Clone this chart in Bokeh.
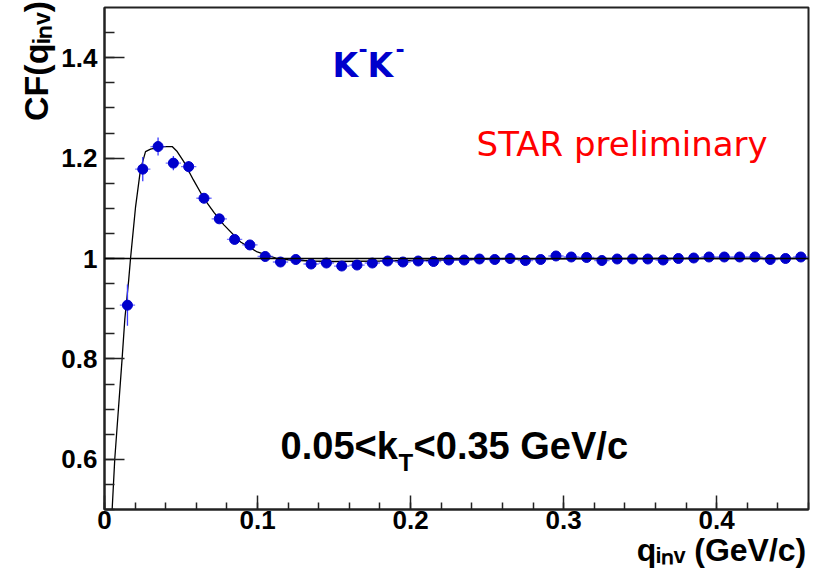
import numpy as np
from bokeh.plotting import figure
from bokeh.models import Span, Label, SingleIntervalTicker, Range1d
from bokeh.embed import file_html
from bokeh.resources import INLINE

# K-K- correlation function vs q_inv (bin centres, GeV/c)
q_inv = [0.015, 0.025, 0.035, 0.045, 0.055, 0.065, 0.075, 0.085, 0.095, 0.105,
         0.115, 0.125, 0.135, 0.145, 0.155, 0.165, 0.175, 0.185, 0.195, 0.205,
         0.215, 0.225, 0.235, 0.245, 0.255, 0.265, 0.275, 0.285, 0.295, 0.305,
         0.315, 0.325, 0.335, 0.345, 0.355, 0.365, 0.375, 0.385, 0.395, 0.405,
         0.415, 0.425, 0.435, 0.445, 0.455]
cf = [0.907, 1.178, 1.223, 1.190, 1.183, 1.120, 1.079, 1.038, 1.027, 1.004,
      0.993, 0.998, 0.989, 0.991, 0.985, 0.987, 0.991, 0.995, 0.993, 0.995,
      0.994, 0.997, 0.997, 0.999, 0.998, 1.000, 0.996, 0.998, 1.005, 1.003,
      1.002, 0.996, 0.999, 0.999, 0.999, 0.997, 1.000, 1.001, 1.003, 1.003,
      1.003, 1.003, 0.998, 1.000, 1.003]
cf_err = [0.041, 0.024, 0.018, 0.014, 0.011, 0.009, 0.008, 0.007, 0.006, 0.006,
          0.005, 0.005, 0.005, 0.005, 0.005, 0.005, 0.005, 0.005, 0.005, 0.005,
          0.005, 0.005, 0.005, 0.005, 0.005, 0.005, 0.005, 0.005, 0.005, 0.005,
          0.005, 0.005, 0.005, 0.005, 0.005, 0.005, 0.005, 0.005, 0.005, 0.005,
          0.005, 0.005, 0.005, 0.005, 0.005]
bin_half_width = 0.005

# fitted correlation function curve
fit_q = [0.005, 0.0067, 0.0115, 0.0133, 0.0158, 0.0170, 0.0203, 0.0235, 0.0268,
         0.0301, 0.0345, 0.0388, 0.0442, 0.0475, 0.0518, 0.0580, 0.0649, 0.0715,
         0.0780, 0.0889, 0.0998, 0.1129, 0.1216, 0.135, 0.150, 0.180, 0.220,
         0.260, 0.300, 0.360, 0.460]
fit_cf = [0.500, 0.600, 0.800, 0.880, 0.957, 1.000, 1.103, 1.177, 1.213,
          1.218, 1.221, 1.223, 1.223, 1.213, 1.193, 1.157, 1.120, 1.092,
          1.067, 1.033, 1.013, 1.000, 0.997, 0.995, 0.994, 0.995, 0.997,
          0.999, 0.9995, 1.000, 1.000]

x_ticks = [0.0, 0.1, 0.2, 0.3, 0.4]
y_ticks = [0.6, 0.8, 1.0, 1.2, 1.4]

x_title = "q\u1d62\u2099\u1d65 (GeV/c)"
y_title = "CF(q\u1d62\u2099\u1d65)"

p = figure(width=819, height=576, output_backend="svg", toolbar_location=None,
           x_range=Range1d(0, 0.46), y_range=Range1d(0.5, 1.5),
           min_border_left=104, min_border_right=11, min_border_top=7,
           min_border_bottom=67)
p.background_fill_color = "white"
p.border_fill_color = "white"
p.grid.visible = False
p.outline_line_color = "#222222"
p.outline_line_width = 2

p.xaxis.ticker = SingleIntervalTicker(interval=0.1, num_minor_ticks=5)
p.yaxis.ticker = SingleIntervalTicker(interval=0.2, num_minor_ticks=4)
p.xaxis.major_label_overrides = {t: ("0" if t == 0 else f"{t:g}") for t in x_ticks}
p.yaxis.major_label_overrides = {t: f"{t:g}" for t in y_ticks}

for ax, maj, mnr in ((p.xaxis[0], 14, 7), (p.yaxis[0], 20, 10)):
    ax.major_tick_in = maj
    ax.major_tick_out = 0
    ax.minor_tick_in = mnr
    ax.minor_tick_out = 0
    ax.axis_line_color = "#222222"
    ax.axis_line_width = 2
    ax.major_tick_line_color = "#222222"
    ax.minor_tick_line_color = "#222222"
    ax.major_tick_line_width = 1.5
    ax.minor_tick_line_width = 1.5
    ax.major_label_text_font = "Liberation Sans"
    ax.major_label_text_font_style = "bold"
    ax.major_label_text_font_size = "26px"
    ax.major_label_text_color = "black"
p.xaxis.major_label_standoff = 1
p.yaxis.major_label_standoff = 7

# reference line at CF = 1
p.add_layout(Span(location=1.0, dimension="width", line_color="black", line_width=1.6))

# fit curve
p.line(fit_q, fit_cf, line_color="black", line_width=1.3)

# data with error bars
q = np.array(q_inv)
y = np.array(cf)
e = np.array(cf_err)
bar_col = "#3a3aff"
p.segment(q, y - e, q, y + e, line_color=bar_col, line_width=1.3)
p.segment(q - bin_half_width, y, q + bin_half_width, y, line_color=bar_col, line_width=1.3, line_alpha=0.7)
p.scatter(q, y, size=10, marker="circle", fill_color="#0000cc", line_color="#0000cc")


def px_x(px):
    return (px - 104) / 1530.0


def px_y(py):
    return 0.5 + (509 - py) / 500.0


# text labels are positioned by their baseline in canvas pixels; the renderer
# places "alphabetic" text about a third of an em lower, so lift it back.
BASE_SHIFT = 0.34


def add_text(txt, px, py, size, font="Liberation Sans", style="bold", color="black",
             rotated=False, place="center"):
    if rotated:
        x, yy, ang = px - BASE_SHIFT * size, py, np.pi / 2
    else:
        x, yy, ang = px, py - BASE_SHIFT * size, 0.0
    lab = Label(x=px_x(x), y=px_y(yy), text=txt, text_font=font,
                text_font_style=style, text_font_size=f"{size}px",
                text_color=color, text_align="left",
                text_baseline="alphabetic", angle=ang)
    p.add_layout(lab, place)


# K-K- pair label
add_text("K", 332, 78, 33, font="DejaVu Sans", color="#0000cc")
add_text("-", 358, 58, 22, font="DejaVu Sans", color="#0000cc")
add_text("K", 367, 78, 33, font="DejaVu Sans", color="#0000cc")
add_text("-", 395, 58, 22, font="DejaVu Sans", color="#0000cc")

add_text("STAR preliminary", 476, 157, 34, font="DejaVu Sans", style="normal", color="#ff0000")

# kT range
add_text("0.05<k", 280, 459, 38)
add_text("T", 398, 470, 24)
add_text("<0.35 GeV/c", 413, 459, 38)

# axis titles, one label per side panel
add_text(x_title, 636, 560, 32, place="below")
add_text(y_title, 47, 122, 34, rotated=True, place="left")

open("out.html", "w").write(file_html(p, INLINE))
